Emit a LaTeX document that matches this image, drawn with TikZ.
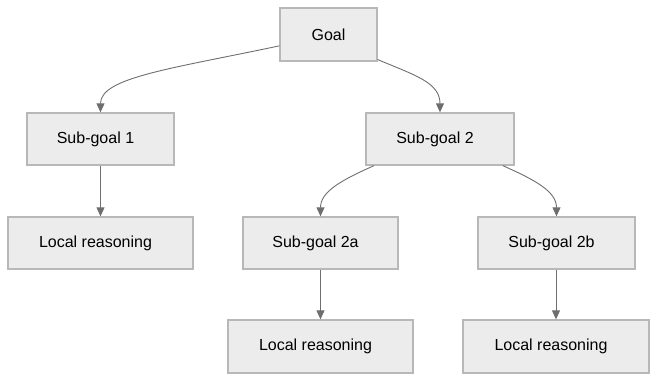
\documentclass[tikz,border=0pt]{standalone}
\usepackage{fontspec}
\setmainfont{Liberation Sans}
\usepackage{tikz}
\usetikzlibrary{
arrows.meta
}
\definecolor{BoxFill}{HTML}{ECECEC}
\definecolor{BoxLine}{HTML}{B8B8B8}
\definecolor{EdgeGray}{HTML}{6E6E6E}

\begin{document}
\begin{tikzpicture}[
    x=1pt,
    y=1pt,
    font=\fontsize{16}{19}\selectfont,
    goalbox/.style={
        draw=BoxLine,
        fill=BoxFill,
        line width=1.3pt,
        minimum height=52pt,
        inner sep=0pt
    },
    leftish/.style={
        execute at begin node={\kern-10pt}
    },
    edge/.style={
        draw=EdgeGray,
        line width=0.9pt,
        -{Triangle[length=9pt,width=8pt]}
    }
]

% Canvas
\useasboundingbox (0,0) rectangle (657,-382);

% Top goal
\node[goalbox, minimum width=97pt, minimum height=53pt]
(goal) at (328.5,-34.5)
{Goal};

% Sub-goals
\node[goalbox, leftish, minimum width=147pt]
(sub1) at (100.5,-139)
{Sub-goal 1};

\node[goalbox, leftish, minimum width=148pt]
(sub2) at (440,-139)
{Sub-goal 2};

\node[goalbox, leftish, minimum width=155pt]
(sub2a) at (320.5,-243)
{Sub-goal 2a};

\node[goalbox, leftish, minimum width=157pt]
(sub2b) at (556.5,-243)
{Sub-goal 2b};

% Local reasoning leaves
\node[goalbox, leftish, minimum width=185pt]
(local1) at (100.5,-243)
{Local reasoning};

\node[goalbox, leftish, minimum width=185pt, minimum height=53pt]
(local2a) at (320.5,-346.5)
{Local reasoning};

\node[goalbox, leftish, minimum width=186pt, minimum height=53pt]
(local2b) at (556,-346.5)
{Local reasoning};

% Curved edges
\draw[edge]
(goal.193) .. controls +(192:110) and +(90:35) .. (sub1.north);

\draw[edge]
(goal.-27) .. controls +(-23:40) and +(90:30) .. (sub2.north);

\draw[edge]
(sub2.202) .. controls +(204:35) and +(90:25) .. (sub2a.north);

\draw[edge]
(sub2.-23) .. controls +(-24:35) and +(90:25) .. (sub2b.north);

% Straight edges
\draw[edge] (sub1) -- (local1);
\draw[edge] (sub2a) -- (local2a);
\draw[edge] (local2b |- sub2b.south) -- (local2b.north);

\end{tikzpicture}
\end{document}
